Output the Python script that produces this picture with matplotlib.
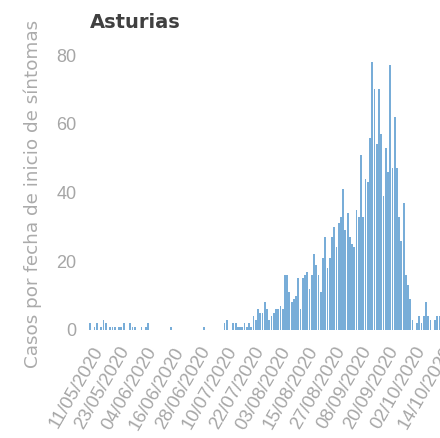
import matplotlib
matplotlib.use('Agg')
import matplotlib.pyplot as plt
import pandas as pd

# daily cases by symptom onset date, starting 07/05/2020
start_date = '2020-05-07'
casos = [2, 0, 1, 2, 0, 1, 3, 2, 0, 1, 1, 1, 0, 1, 1, 2, 0, 0, 2, 1,
         1, 0, 0, 1, 0, 1, 2, 0, 0, 0, 0, 0, 0, 0, 0, 0, 1, 0, 0, 0,
         0, 0, 0, 0, 0, 0, 0, 0, 0, 0, 0, 1, 0, 0, 0, 0, 0, 0, 0, 0,
         2, 3, 0, 0, 2, 2, 1, 1, 1, 2, 1, 2, 1, 4, 3, 6, 5, 5, 8, 6,
         3, 4, 5, 6, 6, 7, 6, 16, 16, 11, 8, 9, 10, 15, 6, 15, 16, 17, 12, 16,
         22, 19, 16, 11, 21, 27, 18, 21, 27, 30, 24, 31, 33, 41, 29, 34, 27, 25, 24, 35,
         33, 51, 33, 44, 43, 56, 78, 70, 54, 70, 57, 39, 53, 46, 77, 47, 62, 47, 33, 26,
         37, 16, 13, 9, 3, 0, 2, 4, 2, 4, 8, 4, 3, 0, 3, 4, 4]

tick_dates = pd.date_range('2020-05-11', '2020-10-14', freq='12D')
tick_labels = [d.strftime('%d/%m/%Y') for d in tick_dates]
y_ticks = [0, 20, 40, 60, 80]

title = 'Asturias'
y_title = 'Casos por fecha de inicio de síntomas'

dates = pd.date_range(start_date, periods=len(casos), freq='D')

gray = '#a6a6a6'

fig = plt.figure(figsize=(4.4, 4.38), dpi=100)
# axes runs off the right edge, like the cropped original
ax = fig.add_axes([0.1995, 0.2466, 0.8502, 0.6906])

ax.bar(dates, casos, width=0.8, color='#78add8', linewidth=0)

ax.set_xlim(pd.Timestamp('2020-05-06'), pd.Timestamp('2020-10-20'))
ax.set_ylim(0, 88)
for s in ax.spines.values():
    s.set_visible(False)

ax.set_yticks(y_ticks)
ax.set_yticklabels([str(v) for v in y_ticks], family='Liberation Sans', fontsize=13, color=gray)
ax.tick_params(axis='y', length=0, pad=8)

ax.set_xticks(tick_dates)
ax.set_xticklabels(tick_labels, rotation=60, ha='right', va='center',
                   rotation_mode='anchor', family='Liberation Sans', fontsize=13.3, color=gray)
ax.tick_params(axis='x', length=0, pad=13)

fig.text(90 / 440, 1 - 28 / 438, title, fontsize=14, fontweight='bold', color='#404040',
         family='DejaVu Sans', va='baseline', ha='left')
fig.text(33 / 440, 1 - 194 / 438, y_title, rotation=90, va='center', ha='center',
         fontsize=13.2, color='#ababab', family='DejaVu Sans')

fig.savefig('out.png', dpi=100)
